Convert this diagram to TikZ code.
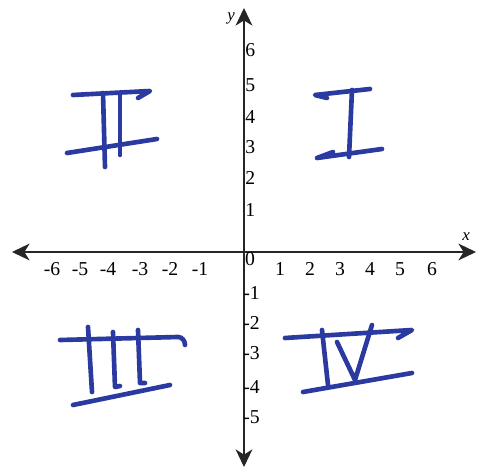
\documentclass[tikz,border=0pt]{standalone}
\usepackage{fontspec}
\setmainfont{Liberation Serif}
\usetikzlibrary{arrows.meta}
\definecolor{inkblue}{HTML}{2A3AA0}

\begin{document}
\begin{tikzpicture}[
  x=0.25mm, y=-0.25mm,
  font=\fontsize{14}{16}\selectfont,
  axis/.style={line width=0.9pt, black!85,
    {Stealth[length=4.4mm,width=4.2mm,inset=1.3mm]}-{Stealth[length=4.4mm,width=4.2mm,inset=1.3mm]}},
  xlab/.style={inner sep=0pt},
  ylab/.style={inner sep=0pt, anchor=west},
  axname/.style={inner sep=0pt, font=\fontsize{12}{14}\selectfont\itshape},
  numeral/.style={draw=inkblue, line width=3.3pt, line cap=round, line join=round}
]
\useasboundingbox (0,0) rectangle (480,470);

% Axes
\coordinate (xleft) at (12,252);
\coordinate (xright) at (476,252);
\coordinate (ytop) at (244,8);
\coordinate (ybot) at (244,467);
\draw[axis] (xleft) -- (xright);
\draw[axis] (ybot) -- (ytop);
\node[axname] (xname) at (466,237) {x};
\node[axname] (yname) at (231,18) {y};

% x labels
\node[xlab] (xm6) at (52,269) {-6};
\node[xlab] (xm5) at (80,269) {-5};
\node[xlab] (xm4) at (108,269) {-4};
\node[xlab] (xm3) at (140,269) {-3};
\node[xlab] (xm2) at (170,269) {-2};
\node[xlab] (xm1) at (200,269) {-1};
\node[xlab] (zero) at (250,259) {0};
\node[xlab] (xp1) at (280,269) {1};
\node[xlab] (xp2) at (310,269) {2};
\node[xlab] (xp3) at (340,269) {3};
\node[xlab] (xp4) at (370,269) {4};
\node[xlab] (xp5) at (400,269) {5};
\node[xlab] (xp6) at (432,269) {6};

% y labels
\node[ylab] (yp6) at (245,50) {6};
\node[ylab] (yp5) at (245,85) {5};
\node[ylab] (yp4) at (245,117) {4};
\node[ylab] (yp3) at (245,147) {3};
\node[ylab] (yp2) at (245,178) {2};
\node[ylab] (yp1) at (245,210) {1};
\node[ylab] (ym1) at (243,293) {-1};
\node[ylab] (ym2) at (243,323) {-2};
\node[ylab] (ym3) at (243,353) {-3};
\node[ylab] (ym4) at (243,387) {-4};
\node[ylab] (ym5) at (243,417) {-5};

% quadrant II
\draw[numeral] (73,95) -- (150,91) -- (138,98);
\draw[numeral] (103,93) -- (105,167);
\draw[numeral] (120,95) -- (120,155);
\draw[numeral] (67,153) -- (157,139);

% quadrant I
\draw[numeral] (327,98) -- (315,95) -- (370,89);
\draw[numeral] (352,90) -- (349,157);
\draw[numeral] (333,152) -- (317,158) -- (382,149);

% quadrant III
\draw[numeral] (60,340) -- (178,337) to[out=0,in=90] (185,345);
\draw[numeral] (88,327) -- (92,392);
\draw[numeral] (113,332) -- (115,387) -- (120,386);
\draw[numeral] (138,330) -- (140,383) -- (145,383);
\draw[numeral] (73,405) -- (170,385);

% quadrant IV
\draw[numeral] (285,338) -- (412,330) -- (398,338);
\draw[numeral] (322,330) -- (328,385);
\draw[numeral] (337,342) -- (355,380) -- (372,325);
\draw[numeral] (303,392) -- (412,373);

\end{tikzpicture}
\end{document}
